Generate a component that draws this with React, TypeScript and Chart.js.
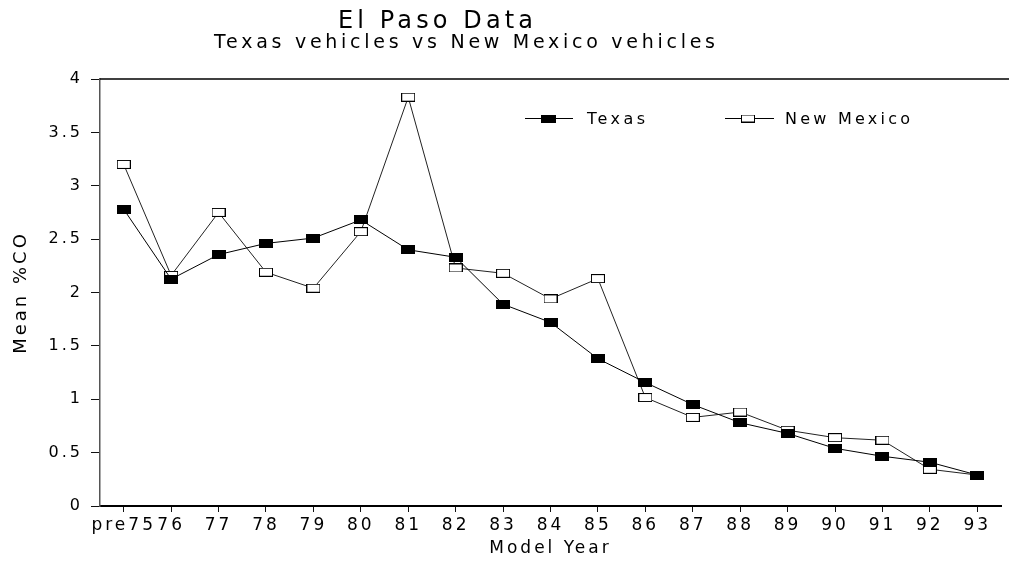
import React, { useEffect, useRef } from 'react';
import { Chart, registerables } from 'chart.js';

Chart.register(...registerables);

const modelYears = ['pre75', '76', '77', '78', '79', '80', '81', '82', '83', '84', '85', '86', '87', '88', '89', '90', '91', '92', '93'];
const texasCO = [2.78, 2.125, 2.355, 2.46, 2.51, 2.68, 2.4, 2.33, 1.89, 1.72, 1.38, 1.157, 0.95, 0.78, 0.68, 0.54, 0.466, 0.41, 0.29];
const newMexicoCO = [3.2, 2.16, 2.75, 2.19, 2.04, 2.57, 3.83, 2.23, 2.18, 1.94, 2.13, 1.016, 0.83, 0.88, 0.71, 0.64, 0.616, 0.344, 0.29];
const yTicks = [0, 0.5, 1, 1.5, 2, 2.5, 3, 3.5, 4];
const yTickLabels = ['0', '0.5', '1', '1.5', '2', '2.5', '3', '3.5', '4'];

const TITLE = 'El Paso Data';
const SUBTITLE = 'Texas vehicles vs New Mexico vehicles';
const SERIES_NAMES = ['Texas', 'New Mexico'];
const X_TITLE = 'Model Year';
const Y_TITLE = 'Mean %CO';

const FONT = '"DejaVu Sans", sans-serif';

function makeMarker(filled: boolean, w: number, h: number) {
  const c = document.createElement('canvas');
  c.width = w;
  c.height = h;
  const g = c.getContext('2d')!;
  if (filled) {
    g.fillStyle = '#000';
    g.fillRect(0, 0, w, h);
  } else {
    g.fillStyle = '#fff';
    g.fillRect(0, 0, w, h);
    g.strokeStyle = '#000';
    g.lineWidth = 1;
    g.strokeRect(0.5, 0.5, w - 1, h - 1);
  }
  return c;
}

function drawSpaced(ctx: CanvasRenderingContext2D, text: string, font: string, left: number, baseline: number, target: number) {
  ctx.font = font;
  (ctx as any).letterSpacing = '0px';
  const w = ctx.measureText(text).width;
  const ls = Math.max(0, (target - w) / (text.length - 1));
  (ctx as any).letterSpacing = ls + 'px';
  ctx.textAlign = 'left';
  ctx.textBaseline = 'alphabetic';
  ctx.fillStyle = '#000';
  ctx.fillText(text, left, baseline);
}

export default function App() {
  const ref = useRef<HTMLCanvasElement | null>(null);

  useEffect(() => {
    if (!ref.current) return;
    const filled = makeMarker(true, 14, 9);
    const open = makeMarker(false, 14, 9);
    const legFilled = makeMarker(true, 15, 8);
    const legOpen = makeMarker(false, 14, 8);

    const decor = {
      id: 'decor',
      beforeInit(chart: any) {
        chart.ctx.letterSpacing = '3px';
      },
      beforeUpdate(chart: any) {
        chart.ctx.letterSpacing = '3px';
      },
      beforeDraw(chart: any) {
        chart.ctx.letterSpacing = '3px';
      },
      afterDraw(chart: any) {
        const { ctx, chartArea } = chart;
        ctx.save();
        ctx.strokeStyle = '#000';
        ctx.lineWidth = 1.5;
        ctx.beginPath();
        ctx.moveTo(chartArea.left, chartArea.top);
        ctx.lineTo(chart.width, chartArea.top);
        ctx.stroke();
        drawSpaced(ctx, TITLE, `24px ${FONT}`, 338, 28, 195);
        drawSpaced(ctx, SUBTITLE, `19px ${FONT}`, 214, 48, 501);
        ctx.strokeStyle = '#000';
        ctx.lineWidth = 1;
        ctx.beginPath();
        ctx.moveTo(525, 118.5);
        ctx.lineTo(573, 118.5);
        ctx.moveTo(725, 118.5);
        ctx.lineTo(774, 118.5);
        ctx.stroke();
        ctx.drawImage(legFilled, 548 - 7.5, 118.5 - 4);
        ctx.drawImage(legOpen, 748 - 7, 118.5 - 4);
        drawSpaced(ctx, SERIES_NAMES[0], `16px ${FONT}`, 587, 124, 58);
        drawSpaced(ctx, SERIES_NAMES[1], `16px ${FONT}`, 785, 124, 125);
        ctx.restore();
        ctx.letterSpacing = '3px';
      },
    };

    const chart = new Chart(ref.current, {
      type: 'line',
      data: {
        labels: modelYears,
        datasets: [
          {
            label: SERIES_NAMES[0],
            data: texasCO,
            borderColor: '#000',
            borderWidth: 1,
            pointStyle: filled as any,
            pointRadius: 7,
            tension: 0,
          },
          {
            label: SERIES_NAMES[1],
            data: newMexicoCO,
            borderColor: '#222',
            borderWidth: 1,
            pointStyle: open as any,
            pointRadius: 7,
            tension: 0,
          },
        ],
      },
      plugins: [decor],
      options: {
        animation: false,
        responsive: false,
        maintainAspectRatio: false,
        events: [],
        layout: { padding: { left: 0, top: 79, right: 3, bottom: 0 } },
        plugins: {
          legend: { display: false },
          title: { display: false },
          tooltip: { enabled: false },
        },
        scales: {
          x: {
            type: 'category',
            offset: true,
            afterFit(scale: any) {
              scale.height = 59;
            },
            grid: {
              display: true,
              drawOnChartArea: false,
              drawTicks: true,
              tickLength: 6,
              color: '#111',
              offset: false,
            },
            border: { display: true, color: '#000', width: 2 },
            ticks: {
              autoSkip: false,
              maxRotation: 0,
              minRotation: 0,
              padding: 3,
              color: '#000',
              font: { family: FONT, size: 17 },
            },
            title: {
              display: true,
              text: X_TITLE,
              color: '#000',
              font: { family: FONT, size: 17 },
              padding: { top: 0, bottom: 6 },
            },
          },
          y: {
            min: 0,
            max: 4,
            afterFit(scale: any) {
              scale.width = 100;
            },
            afterBuildTicks(scale: any) {
              scale.ticks = yTicks.map((v) => ({ value: v }));
            },
            grid: {
              display: true,
              drawOnChartArea: false,
              drawTicks: true,
              tickLength: 9,
              color: '#111',
            },
            border: { display: true, color: '#555', width: 1.5 },
            ticks: {
              padding: 8,
              color: '#000',
              font: { family: FONT, size: 16 },
              callback: (value: any) => {
                const i = yTicks.indexOf(Number(value));
                return i >= 0 ? yTickLabels[i] : String(value);
              },
            },
            title: {
              display: true,
              text: Y_TITLE,
              color: '#000',
              font: { family: FONT, size: 18 },
              padding: { top: 11, bottom: 0 },
            },
          },
        },
      },
    });
    return () => chart.destroy();
  }, []);

  return (
    <div style={{ position: 'fixed', left: 0, top: 0, width: 1009, height: 565, background: '#fff' }}>
      <canvas ref={ref} width={1009} height={565} style={{ display: 'block', width: 1009, height: 565 }} />
    </div>
  );
}
